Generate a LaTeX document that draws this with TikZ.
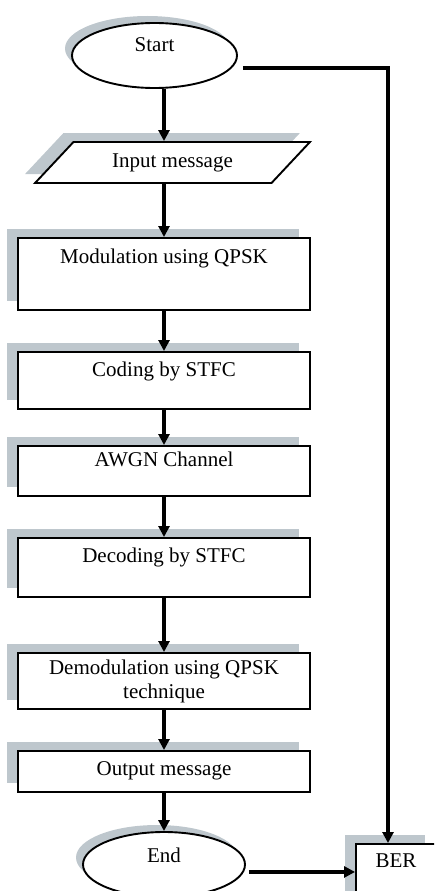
\documentclass[tikz,border=0pt]{standalone}
\usepackage{fontspec}
\setmainfont{Liberation Serif}
\usetikzlibrary{shapes.geometric,shadows,arrows.meta}
\definecolor{shadowgray}{RGB}{190,199,205}

\begin{document}
\begin{tikzpicture}[x=1pt, y=-1pt,
        font=\fontsize{21}{24}\selectfont,
        box/.style={draw, line width=1.9pt, fill=white, rectangle, inner sep=0pt,
            minimum width=292pt, anchor=north,
            drop shadow={shadow xshift=-11pt, shadow yshift=9pt, fill=shadowgray, opacity=1}},
        term/.style={draw, line width=1.9pt, fill=white, ellipse, inner sep=0pt,
            drop shadow={shadow xshift=-7pt, shadow yshift=7pt, fill=shadowgray, opacity=1}},
        arr/.style={line width=3.3pt, -{Triangle[length=11pt, width=11pt]}}]
    \clip (0, 0) rectangle (434, 891);

    \node[term, minimum width=165pt, minimum height=65pt, text height=14pt, text depth=22pt] (start) at (154.5, 55.5) {Start};
    \node[draw, line width=1.9pt, fill=white, trapezium, trapezium left angle=38, trapezium right angle=142,
        trapezium stretches, minimum width=275pt, minimum height=41pt, inner sep=0pt,
        drop shadow={shadow xshift=-10pt, shadow yshift=9pt, fill=shadowgray, opacity=1}] (in) at (172.5, 162.5) {Input message};

    \node[box, text height=26pt, text depth=46pt] (mod) at (164, 237) {Modulation using QPSK};
    \node[box, text height=25pt, text depth=32pt] (cod) at (164, 351) {Coding by STFC};
    \node[box, text height=21pt, text depth=29pt] (awgn) at (164, 445) {AWGN Channel};
    \node[box, text height=25pt, text depth=34pt] (dec) at (164, 537) {Decoding by STFC};
    \node[box, minimum height=56pt, align=center] (demod) at (164, 652) {Demodulation using QPSK\\technique};
    \node[box, text height=25pt, text depth=16pt] (out) at (164, 750) {Output message};

    \node[term, minimum width=162pt, minimum height=65pt, text height=16pt, text depth=21pt] (end) at (164, 864.5) {End};
    \node[box, minimum width=80pt, text height=24pt, text depth=32pt] (ber) at (396, 843) {BER};

    \draw[arr] (start.south -| mod.north) -- (in.north -| mod.north);
    \draw[arr] (in.south -| mod.north) -- (mod.north);
    \draw[arr] (mod) -- (cod);
    \draw[arr] (cod) -- (awgn);
    \draw[arr] (awgn) -- (dec);
    \draw[arr] (dec) -- (demod);
    \draw[arr] (demod) -- (out);
    \draw[arr] (out) -- (end);

    \draw[arr] ([xshift=5pt, yshift=-12.5pt]start.east) -| ([xshift=-8pt]ber.north);
    \draw[arr] ([xshift=3pt]end.east |- ber.west) -- (ber.west);
\end{tikzpicture}
\end{document}
